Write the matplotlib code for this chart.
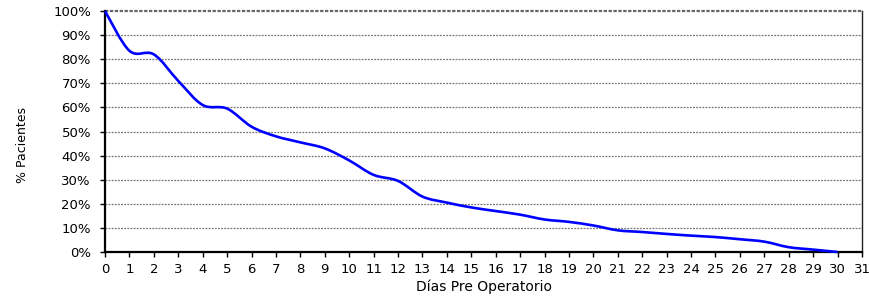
import numpy as np
import matplotlib
matplotlib.use("Agg")
import matplotlib.pyplot as plt
from matplotlib.path import Path
from matplotlib.patches import PathPatch

days = list(range(0, 31))
pct = [100, 83.5, 82, 71, 61, 59.5, 52, 48, 45.5, 43, 38, 32, 29.5, 23, 20.5,
       18.5, 17, 15.5, 13.5, 12.5, 11, 9, 8.3, 7.5, 6.8, 6.2, 5.3, 4.3, 2, 1, 0]
yticks = list(range(0, 101, 10))
xticks = list(range(0, 32))

fig = plt.figure(figsize=(8.7, 2.96), dpi=100)
ax = fig.add_axes([0.1207, 0.1486, 0.9908 - 0.1207, 0.9628 - 0.1486])

# smoothed line (Catmull-Rom style Bezier, like spreadsheet smoothing)
x = np.array(days, float)
y = np.array(pct, float)
verts = [(x[0], y[0])]
codes = [Path.MOVETO]
n = len(x)
for i in range(n - 1):
    p0 = np.array([x[max(i - 1, 0)], y[max(i - 1, 0)]])
    p1 = np.array([x[i], y[i]])
    p2 = np.array([x[i + 1], y[i + 1]])
    p3 = np.array([x[min(i + 2, n - 1)], y[min(i + 2, n - 1)]])
    c1 = p1 + (p2 - p0) / 6.0
    c2 = p2 - (p3 - p1) / 6.0
    verts += [tuple(c1), tuple(c2), tuple(p2)]
    codes += [Path.CURVE4] * 3
ax.add_patch(PathPatch(Path(verts, codes), facecolor="none", edgecolor="#0000FF",
                       lw=1.9, zorder=3, clip_on=False))

ax.set_xlim(0, 31)
ax.set_ylim(0, 100)
ax.set_yticks(yticks)
ax.set_yticklabels([f"{v}%" for v in yticks])
ax.set_xticks(xticks)
ax.set_xticklabels([str(v) for v in xticks])

for v in yticks[1:-1]:
    ax.axhline(v, color="#777777", lw=0.9, ls=(0, (1.5, 1.0)), zorder=1)
ax.axhline(100, color="#666666", lw=1.6, ls=(0, (1.5, 0.7)), zorder=2, clip_on=False)

for s in ["left", "bottom"]:
    ax.spines[s].set_color("black")
    ax.spines[s].set_linewidth(1.6)
ax.spines["right"].set_color("#222222")
ax.spines["right"].set_linewidth(1.0)
ax.spines["top"].set_visible(False)

ax.tick_params(axis="both", direction="out", length=3.6, width=1, colors="black",
               labelsize=9.5)
ax.tick_params(axis="y", pad=6.5)
ax.tick_params(axis="x", pad=4)
for lab in ax.get_xticklabels() + ax.get_yticklabels():
    lab.set_fontfamily("DejaVu Sans")

ax.set_xlabel("Días Pre Operatorio", fontsize=10, family="DejaVu Sans", labelpad=2.5)
fig.text(0.026, 0.51, "% Pacientes", rotation=90, fontsize=9, family="DejaVu Sans",
         ha="center", va="center")

fig.savefig("out.png", dpi=100)
